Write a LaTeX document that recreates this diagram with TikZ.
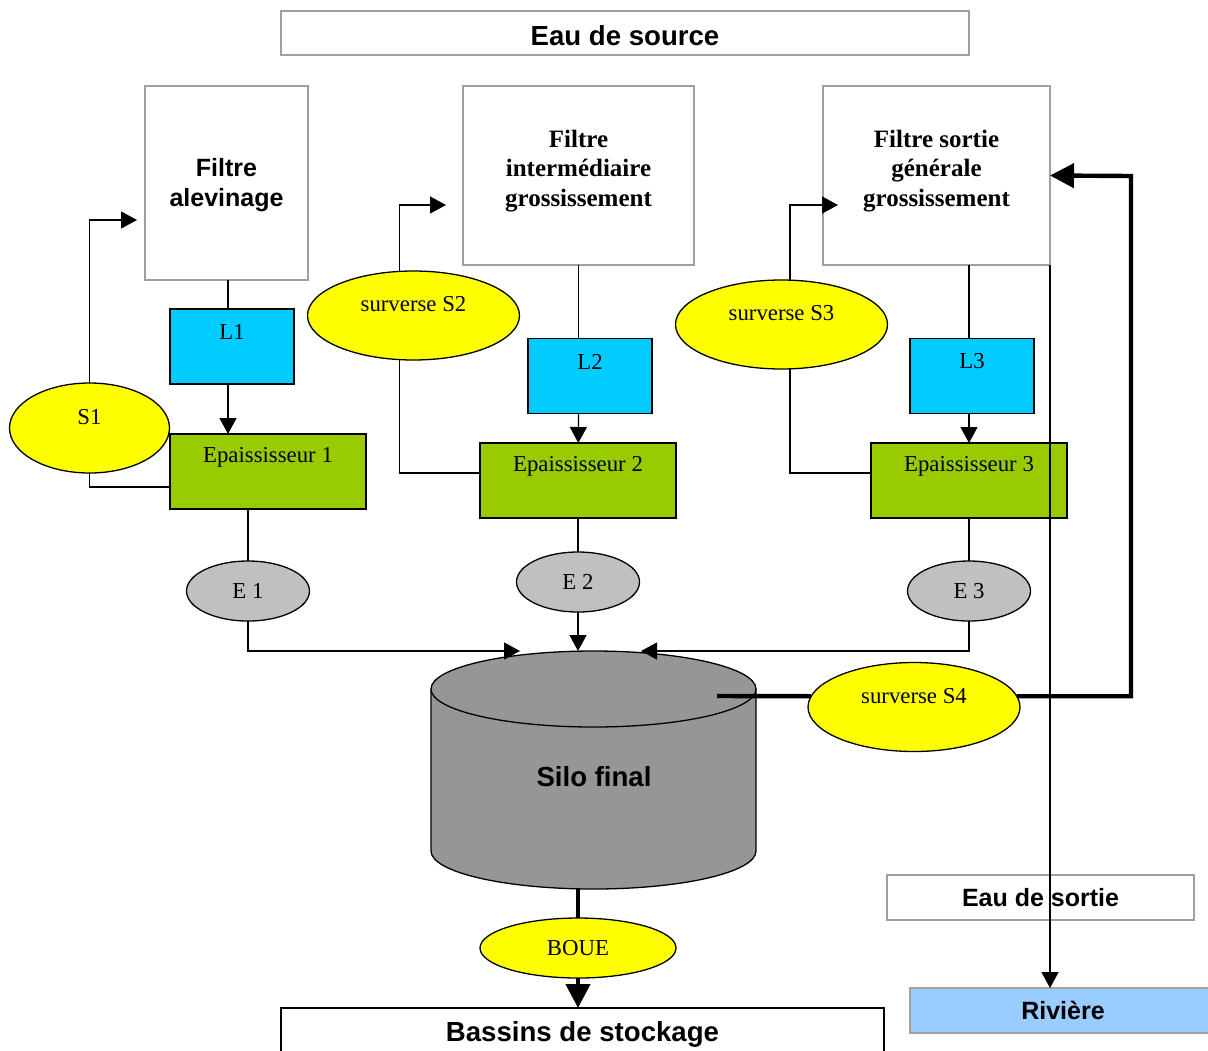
\documentclass[tikz,border=0pt]{standalone}
\usepackage{fontspec}
\setmainfont{Liberation Serif}
\setsansfont{Liberation Sans}
\usetikzlibrary{arrows.meta,shapes.geometric}
\definecolor{cadre}{RGB}{160,160,160}
\definecolor{bleuL}{RGB}{0,204,255}
\definecolor{vertE}{RGB}{153,204,0}
\definecolor{jaune}{RGB}{255,255,0}
\definecolor{grisE}{RGB}{192,192,192}
\definecolor{grisSilo}{RGB}{150,150,150}
\definecolor{bleuR}{RGB}{153,204,255}
\begin{document}
\begin{tikzpicture}[x=0.5pt,y=-0.5pt,line width=0.65pt,font=\fontsize{11.4pt}{13.7pt}\selectfont,
	box/.style={draw,rectangle,inner sep=0pt,outer sep=0pt},
	sans/.style={font=\sffamily\bfseries\fontsize{12.5pt}{15pt}\selectfont},
	grand/.style={font=\sffamily\bfseries\fontsize{13.8pt}{16pt}\selectfont},
	ftxt/.style={align=center,font=\bfseries\fontsize{12.5pt}{14.75pt}\selectfont},
	filtre/.style={box,draw=cadre,ftxt},
	lit/.style={box,fill=bleuL,minimum width=62pt,minimum height=37.5pt,label={[yshift=7.25pt]center:#1}},
	epais/.style={box,fill=vertE,minimum width=98pt,minimum height=37.5pt,label={[yshift=7pt]center:#1}},
	surv/.style={draw,ellipse,fill=jaune,inner sep=0pt,outer sep=0pt,minimum width=106pt,minimum height=44.5pt,label={[yshift=5.5pt]center:#1}},
	evac/.style={draw,ellipse,fill=grisE,inner sep=0pt,outer sep=0pt,minimum width=61.5pt,minimum height=30pt},
	fleche/.style={-{Triangle[length=8pt,width=8.5pt]}},
	grosse/.style={line width=2.2pt},
	grossefleche/.style={grosse,-{Triangle[length=12pt,width=12pt]}}]
	\useasboundingbox (0,0) rectangle (1208,1050);
	\node[box,draw=cadre,grand,text height=13pt,minimum width=344pt,minimum height=22pt] (source) at (625,33) {Eau de source};
	\node[filtre,minimum width=81.5pt,minimum height=97pt,label={[ftxt,sans,yshift=-1pt]center:Filtre\\alevinage}] (f1) at (226.5,183) {};
	\node[filtre,minimum width=115.5pt,minimum height=89.5pt,label={[ftxt,yshift=2.25pt]center:Filtre\\intermédiaire\\grossissement}] (f2) at (578.5,175.5) {};
	\node[filtre,minimum width=113.5pt,minimum height=89.5pt,label={[ftxt,yshift=2.25pt]center:Filtre sortie\\générale\\grossissement}] (f3) at (936.5,175.5) {};
	\node[lit=L1] (l1) at (232,346.5) {};
	\node[lit=L2] (l2) at (590,376) {};
	\node[lit=L3] (l3) at (972,376) {};
	\node[epais=Epaississeur 1] (ep1) at (268,471.5) {};
	\node[epais=Epaississeur 2] (ep2) at (578,480.5) {};
	\node[epais=Epaississeur 3] (ep3) at (969,480.5) {};
	\node[surv=S1,minimum width=80pt,minimum height=45pt] (s1) at (89.5,428) {};
	\node[surv=surverse S2] (s2) at (413.5,315.5) {};
	\node[surv=surverse S3] (s3) at (781.5,324.5) {};
	\node[evac] (e1) at (248,591) {E 1};
	\node[evac] (e2) at (578,582) {E 2};
	\node[evac] (e3) at (969,591) {E 3};
	\draw[fill=grisSilo] (431,689) -- (431,851) arc[start angle=180,end angle=360,x radius=81.25pt,y radius=19pt] -- (756,689);
	\draw[fill=grisSilo] (593.5,689) ellipse[x radius=81.25pt,y radius=19pt];
	\node[grand] (silo) at (594,777) {Silo final};
	\node[surv=surverse S4] (s4) at (914,707) {};
	\node[draw,ellipse,fill=jaune,inner sep=0pt,outer sep=0pt,minimum width=98pt,minimum height=30pt] (boue) at (578,948) {BOUE};
	\node[box,draw=cadre,sans,minimum width=153.5pt,minimum height=22.5pt] (eausortie) at (1040.5,897.5) {Eau de sortie};
	\node[box,draw=cadre,fill=bleuR,sans,minimum width=153pt,minimum height=22.5pt] (riviere) at (1063,1010.5) {Rivière};
	\node[box,grand,text height=12pt,minimum width=301.5pt,minimum height=24pt] (bassins) at (582.5,1032) {Bassins de stockage};
	\coordinate (in1) at (137,220);
	\coordinate (in2) at (446,205);
	\coordinate (in3) at (838,205);
	\coordinate (siloG) at (520,651);
	\coordinate (siloD) at (641,651);
	\coordinate (siloS4) at (717,696);
	\coordinate (siloBas) at (578,889);
	\coordinate (retour) at (1131,176);
	\draw ([xshift=0.75pt]f1.south) -- ([xshift=0.75pt]f1.south |- l1.north);
	\draw[fleche] ([xshift=0.75pt]f1.south |- l1.south) -- ([xshift=0.75pt]f1.south |- ep1.north);
	\draw (ep1.south -| e1) -- (e1);
	\draw[fleche] (e1) |- (siloG);
	\draw ([yshift=-7.75pt]ep1.west) -| (s1);
	\draw[fleche] (s1) |- (in1);
	\draw (f2) -- (f2 |- l2.north);
	\draw[fleche] (f2 |- l2.south) -- (ep2);
	\draw (ep2) -- (e2);
	\draw[fleche] (e2) -- (e2 |- siloG);
	\draw ([yshift=3.75pt]ep2.west) -| ([xshift=-7pt]s2.south);
	\draw[fleche] ([xshift=-7pt]s2.north) |- (in2);
	\draw (f3.south -| ep3) -- (l3.north -| ep3);
	\draw[fleche] (l3.south -| ep3) -- (ep3);
	\draw (ep3) -- (e3);
	\draw[fleche] (e3) |- (siloD);
	\draw ([yshift=3.75pt]ep3.west) -| ([xshift=4.25pt]s3.south);
	\draw[fleche] ([xshift=4.25pt]s3.north) |- (in3);
	\draw[grosse] (siloS4) -- (s4.174);
	\draw[grossefleche] (s4.6) -| (retour) -- (f3.east);
	\draw[fleche] (f3.south east) -- (f3.south east |- riviere.north);
	\draw[grosse] (siloBas) -- (boue);
	\draw[grossefleche] (boue) -- (boue |- bassins.north);
\end{tikzpicture}
\end{document}
